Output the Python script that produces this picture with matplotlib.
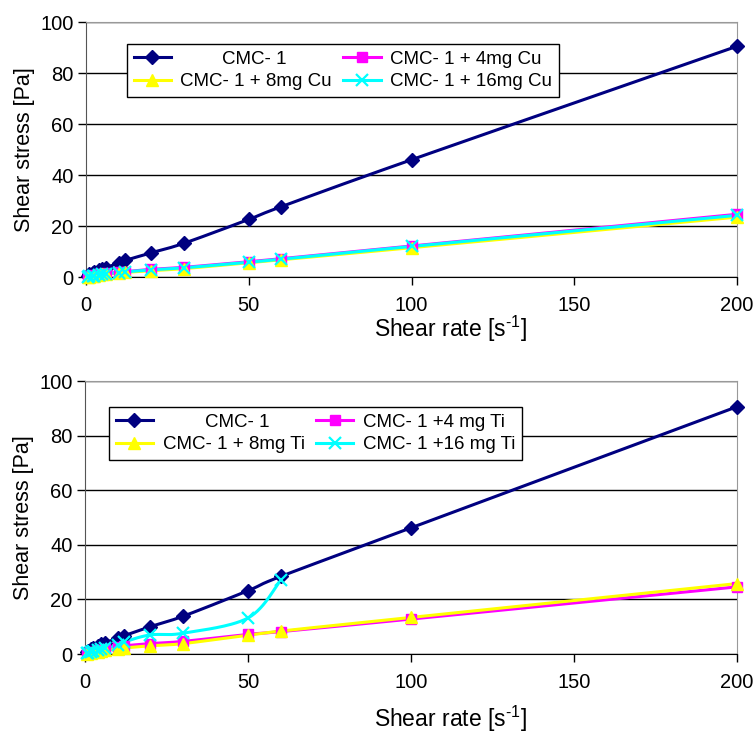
import numpy as np
import matplotlib
matplotlib.use("Agg")
import matplotlib.pyplot as plt

plt.rcParams["font.family"] = ["Liberation Sans", "DejaVu Sans"]
plt.rcParams["mathtext.fontset"] = "custom"
plt.rcParams["mathtext.rm"] = "Liberation Sans"
plt.rcParams["mathtext.default"] = "regular"

# shear rate points [1/s]
shear_rate = [0.5, 1, 2, 2.5, 4, 5, 6, 10, 12, 20, 30, 50, 60, 100, 200]

# top panel: CMC-1 with Cu
cmc_top = [0.6, 1.0, 1.7, 2.0, 2.8, 3.2, 3.6, 5.5, 6.5, 9.5, 13.2, 22.6, 27.6, 46.0, 90.5]
cu_4 = [0.2, 0.3, 0.6, 0.7, 1.0, 1.2, 1.4, 1.8, 2.1, 3.0, 3.8, 6.0, 7.2, 12.2, 24.6]
cu_8 = [0.1, 0.2, 0.4, 0.5, 0.8, 1.0, 1.2, 1.5, 1.8, 2.5, 3.3, 5.6, 6.8, 11.5, 23.5]
cu_16 = [0.2, 0.3, 0.5, 0.6, 0.9, 1.1, 1.3, 1.7, 2.0, 2.8, 3.6, 5.8, 7.0, 12.0, 24.2]

# bottom panel: CMC-1 with Ti
cmc_bot = [0.6, 1.0, 1.8, 2.1, 3.0, 3.5, 4.0, 5.8, 6.7, 10.0, 13.8, 23.2, 28.4, 46.2, 90.6]
ti_4 = [0.2, 0.4, 0.7, 0.9, 1.3, 1.6, 1.9, 2.6, 3.0, 3.8, 4.6, 7.2, 8.2, 12.8, 24.6]
ti_8 = [0.1, 0.2, 0.5, 0.6, 0.9, 1.1, 1.3, 1.8, 2.2, 3.0, 3.8, 6.9, 8.4, 13.4, 25.8]
ti_16 = [0.3, 0.5, 0.9, 1.0, 1.5, 1.8, 2.1, 3.2, 4.4, 7.0, 7.6, 13.2, 27.0]  # only up to 60 1/s

labels_top = ["CMC- 1", "CMC- 1 + 4mg Cu", "CMC- 1 + 8mg Cu", "CMC- 1 + 16mg Cu"]
labels_bot = ["CMC- 1", "CMC- 1 +4 mg Ti", "CMC- 1 + 8mg Ti", "CMC- 1 +16 mg Ti"]

styles = [
    dict(color="#000080", marker="D", ms=7, mfc="#000080", mec="#000080"),
    dict(color="#ff00ff", marker="s", ms=7, mfc="#ff00ff", mec="#ff00ff"),
    dict(color="#ffff00", marker="^", ms=9, mfc="#ffff00", mec="#ffff00"),
    dict(color="#00ffff", marker="x", ms=8, mew=1.6, mfc="#00ffff", mec="#00ffff"),
]


def smooth(x, y, n=30):
    # excel style smoothed line (bezier through the points)
    p = np.column_stack([x, y]).astype(float)
    out = [p[:1]]
    t = np.linspace(0, 1, n)[1:, None]
    for i in range(len(p) - 1):
        prev = p[i - 1] if i > 0 else p[i]
        nxt = p[i + 2] if i + 2 < len(p) else p[i + 1]
        c1 = p[i] + (p[i + 1] - prev) / 6
        c2 = p[i + 1] - (nxt - p[i]) / 6
        seg = ((1 - t) ** 3 * p[i] + 3 * (1 - t) ** 2 * t * c1
               + 3 * (1 - t) * t ** 2 * c2 + t ** 3 * p[i + 1])
        out.append(seg)
    out = np.vstack(out)
    return out[:, 0], out[:, 1]


def draw_panel(ax, series, labels, legend_anchor, xlabelpad):
    handles = []
    for ys, st in zip(series, styles):
        xs = shear_rate[:len(ys)]
        sx, sy = smooth(xs, ys)
        ax.plot(sx, sy, color=st["color"], lw=2.2, solid_capstyle="round")
        ax.plot(xs, ys, ls="none", clip_on=False, zorder=3,
                **{k: v for k, v in st.items() if k != "color"})
        h, = ax.plot([], [], lw=2.2, **st)
        handles.append(h)

    ax.set_xlim(0, 200)
    ax.set_ylim(0, 100)
    ax.set_xticks([0, 50, 100, 150, 200])
    ax.set_yticks([0, 20, 40, 60, 80, 100])
    ax.tick_params(axis="y", direction="out", length=6, width=1, pad=3, labelsize=14.5)
    ax.tick_params(axis="x", direction="out", length=6, width=1, pad=8, labelsize=14.5)
    ax.grid(axis="y", color="black", lw=1)
    ax.set_axisbelow(True)
    for s in ["top", "right"]:
        ax.spines[s].set_color("#999999")
    ax.spines["left"].set_color("#555555")
    ax.spines["bottom"].set_color("black")
    ax.set_xlabel("Shear rate [s$^{\u2010 1}$]", fontsize=16.5, labelpad=xlabelpad)
    ax.xaxis.label.set_x(0.56)
    ax.set_ylabel("Shear stress [Pa]", fontsize=15.5, labelpad=4)

    # first label centred in its column like the original legend
    labels = ["        " + labels[0]] + labels[1:]
    # legend is filled column by column, reorder to get row layout
    order = [0, 2, 1, 3]
    leg = ax.legend([handles[i] for i in order], [labels[i] for i in order],
                    ncol=2, loc="upper left", bbox_to_anchor=legend_anchor,
                    borderaxespad=0, fontsize=13.5, frameon=True, fancybox=False,
                    framealpha=1, edgecolor="black", handlelength=2.0,
                    columnspacing=0.6, handletextpad=0.5, labelspacing=0.3,
                    borderpad=0.35)
    leg.get_frame().set_linewidth(1)
    leg.set_zorder(5)


fig = plt.figure(figsize=(7.56, 7.36), dpi=100)
ax1 = fig.add_axes([0.1138, 0.6236, 0.8612, 0.3465])
ax2 = fig.add_axes([0.1124, 0.1114, 0.8626, 0.3709])

draw_panel(ax1, [cmc_top, cu_4, cu_8, cu_16], labels_top, (0.063, 0.914), -1.0)
draw_panel(ax2, [cmc_bot, ti_4, ti_8, ti_16], labels_bot, (0.037, 0.905), 8.5)

fig.savefig("out.png", dpi=100)
